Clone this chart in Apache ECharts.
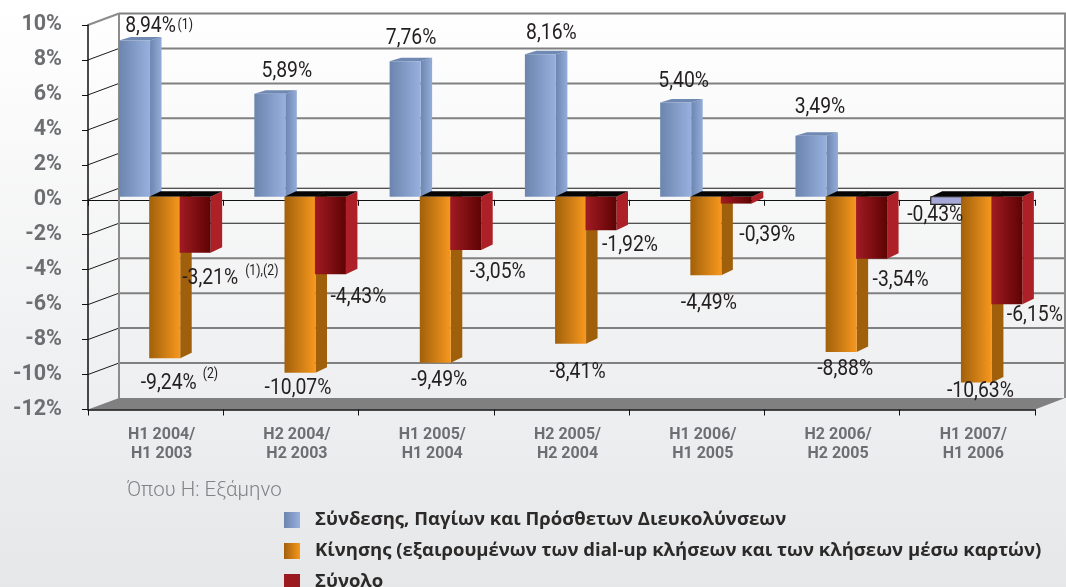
<!DOCTYPE html>
<html>
<head>
<meta charset="utf-8">
<title>chart</title>
<style>
  html, body { margin: 0; padding: 0; }
  #main { width: 1066px; height: 587px; }
</style>
<script src="https://cdn.jsdelivr.net/npm/echarts@6/dist/echarts.min.js"></script>
</head>
<body>
<div id="main"></div>
<script>
var categories = ['H1 2004/\nH1 2003', 'H2 2004/\nH2 2003', 'H1 2005/\nH1 2004', 'H2 2005/\nH2 2004', 'H1 2006/\nH1 2005', 'H2 2006/\nH2 2005', 'H1 2007/\nH1 2006']
var accessValues = [8.94, 5.89, 7.76, 8.16, 5.40, 3.49, -0.43]
var trafficValues = [-9.24, -10.07, -9.49, -8.41, -4.49, -8.88, -10.63]
var totalValues = [-3.21, -4.43, -3.05, -1.92, -0.39, -3.54, -6.15]
var accessNotes = ['(1)', '', '', '', '', '', '']
var trafficNotes = ['(2)', '', '', '', '', '', '']
var totalNotes = ['(1),(2)', '', '', '', '', '', '']
var yTicks = [10, 8, 6, 4, 2, 0, -2, -4, -6, -8, -10, -12]
var accessName = 'Σύνδεσης, Παγίων και Πρόσθετων Διευκολύνσεων'
var trafficName = 'Κίνησης (εξαιρουμένων των dial-up κλήσεων και των κλήσεων μέσω καρτών)'
var totalName = 'Σύνολο'
var noteText = 'Όπου Η: Εξάμηνο'

// label shift from the end of each bar, in px
var accessShift = [[16, -15], [17, -23], [6, -24], [11, -22], [8, -22], [9, -29], [-11, 10]]
var trafficShift = [[4, 24], [-2, 15], [4, 17], [7, 28], [3, 27], [4, 17], [4, 8]]
var totalShift = [[15, 25], [28, 22], [32, 21], [29, 14], [31, 31], [29, 21], [28, 10]]

var WALL_DX = 31
var WALL_DY = -11.5
var BAR_W = 31
var BAR_DX = 11.5
var BAR_BASE_DY = -3
var GRAY = '#6d6e71'
var LABEL_FONT = 'Roboto'
var LABEL_SCALE = 0.88

function hGrad(a, b) {
  return {
    type: 'linear', x: 0, y: 0, x2: 1, y2: 0,
    colorStops: [{ offset: 0, color: a }, { offset: 1, color: b }],
  }
}

function poly(points, fill, z2) {
  return { type: 'polygon', shape: { points: points }, style: { fill: fill }, z2: z2 }
}

function pct(v) {
  return v.toFixed(2).replace('.', ',') + '%'
}

// back wall, floor and the slanted ticks on the left
function renderWall(params, api) {
  var v = api.value(0)
  var rect = params.coordSys
  var y = api.coord([0, v])[1]
  var x0 = rect.x
  var x1 = rect.x + rect.width
  var children = []
  if (v === -12) {
    children.push(poly([[x0, y], [x0 + WALL_DX, y + WALL_DY], [x1 + WALL_DX - 1, y + WALL_DY], [x1, y]], '#808080', 1))
    children.push({
      type: 'line',
      shape: { x1: x0 + WALL_DX, y1: rect.y + WALL_DY, x2: x0 + WALL_DX, y2: y + WALL_DY },
      style: { stroke: '#8c8c8c', lineWidth: 2 },
      z2: 1,
    })
    children.push({
      type: 'line',
      shape: { x1: x1 + WALL_DX - 1, y1: rect.y + WALL_DY, x2: x1 + WALL_DX - 1, y2: y + WALL_DY },
      style: { stroke: '#8c8c8c', lineWidth: 2 },
      z2: 1,
    })
    return { type: 'group', children: children }
  }
  var dark = v === 0 || v === -2
  children.push({
    type: 'line',
    shape: { x1: x0 + WALL_DX, y1: y + WALL_DY, x2: 1066, y2: y + WALL_DY },
    style: { stroke: dark ? '#1a1a1a' : '#808080', lineWidth: dark ? 1.2 : 2 },
    z2: 1,
  })
  children.push({
    type: 'line',
    shape: { x1: x0, y1: y, x2: x0 + WALL_DX, y2: y + WALL_DY },
    style: { stroke: v === 10 ? '#8c8c8c' : '#1a1a1a', lineWidth: v === 10 ? 2 : 1 },
    z2: 1,
  })
  return { type: 'group', children: children }
}

function labelText(text, x, y, align, size) {
  return {
    type: 'text',
    x: x,
    y: y,
    scaleX: LABEL_SCALE,
    style: {
      text: text,
      align: align,
      verticalAlign: 'middle',
      fill: '#231f20',
      font: size + 'px ' + LABEL_FONT,
    },
    z2: 100,
  }
}

function makeBarRender(opts) {
  return function (params, api) {
    var i = api.value(0)
    var v = api.value(1)
    var base = api.coord([i, 0])
    var end = api.coord([i, v])
    var band = api.size([1, 0])[0]
    var xl = base[0] + opts.offset * band - BAR_W / 2
    var xr = xl + BAR_W
    var y0 = base[1] + BAR_BASE_DY
    var y1 = end[1] + BAR_BASE_DY
    var dy = v < 0 ? -5.5 : -3.5
    var z = opts.z
    var children = []
    var top = Math.min(y0, y1)
    var bottom = Math.max(y0, y1)
    var negBlue = v < 0 && opts.blue

    children.push(poly([[xr, top], [xr + BAR_DX, top + dy], [xr + BAR_DX, bottom + dy], [xr, bottom]], opts.side, z))
    children.push(poly([[xl, top], [xl + BAR_DX, top + dy], [xr + BAR_DX, top + dy], [xr, top]], v < 0 ? '#050505' : opts.top, z))
    children.push({
      type: 'rect',
      shape: { x: xl, y: top, width: BAR_W, height: bottom - top },
      style: negBlue ? { fill: '#a6a8d8', stroke: '#222', lineWidth: 1.2 } : { fill: opts.front },
      z2: z + 1,
    })

    var shift = opts.shift[i]
    var cx = xl + BAR_W / 2 + shift[0]
    var cy = y1 + shift[1] + 1
    children.push(labelText(pct(v), cx, cy, 'center', 22))
    var note = opts.notes[i]
    if (note) {
      children.push(labelText(note, cx + opts.noteShift[0], cy + opts.noteShift[1], 'left', 14))
    }
    return { type: 'group', children: children }
  }
}

function barData(values) {
  return values.map(function (v, i) {
    return [i, v]
  })
}

var accessFront = hGrad('#6c85ae', '#97b0de')
var trafficFront = hGrad('#a1600a', '#f7981f')
var totalFront = hGrad('#a11b23', '#5e0303')

var myChart = echarts.init(document.getElementById('main'))
var options = {
  animation: false,
  backgroundColor: {
    type: 'linear', x: 0, y: 0, x2: 0, y2: 1,
    colorStops: [{ offset: 0, color: '#ffffff' }, { offset: 1, color: '#e6e7e9' }],
  },
  textStyle: { fontFamily: 'Roboto' },
  title: {
    text: noteText,
    left: 122,
    top: 475,
    textStyle: { color: '#808285', fontSize: 20.5, fontWeight: 300, fontFamily: 'Roboto' },
  },
  legend: {
    data: [accessName, trafficName, totalName],
    orient: 'vertical',
    left: 284,
    top: 509,
    height: 110,
    padding: 0,
    itemWidth: 16,
    itemHeight: 16,
    itemGap: 9,
    icon: 'rect',
    textStyle: { color: '#2b2a29', fontSize: 18.5, lineHeight: 22, fontWeight: 'bold', fontFamily: '"Open Sans"', padding: [0, 0, 0, 10] },
  },
  grid: { left: 88, right: 31, top: 25, bottom: 177.5, containLabel: false },
  xAxis: [
    {
      type: 'category',
      data: categories,
      position: 'bottom',
      z: 3,
      axisLine: { onZero: false, lineStyle: { color: '#111', width: 1.5 } },
      axisTick: { show: true, length: 6, lineStyle: { color: '#111' } },
      axisLabel: {
        interval: 0,
        margin: 16,
        color: GRAY,
        fontFamily: 'Roboto',
        fontWeight: 'bold',
        fontSize: 16,
        lineHeight: 19,
        padding: [0, 0, 0, 12],
      },
    },
    {
      type: 'category',
      data: categories,
      position: 'bottom',
      z: 0,
      axisLine: { onZero: true, lineStyle: { color: '#111', width: 1.2 } },
      axisTick: { show: true, length: 6, lineStyle: { color: '#111' } },
      axisLabel: { show: false },
    },
  ],
  yAxis: {
    type: 'value',
    min: -12,
    max: 10,
    interval: 2,
    z: 3,
    axisLine: { show: true, lineStyle: { color: '#111', width: 1.5 } },
    axisTick: { show: true, length: 6, lineStyle: { color: '#111' } },
    axisLabel: {
      margin: 26,
      color: GRAY,
      fontFamily: 'Roboto',
      fontWeight: 'bold',
      fontSize: 21.5,
      padding: [6, 0, 0, 0],
      formatter: '{value}%',
    },
    splitLine: { show: false },
  },
  series: [
    {
      name: 'wall',
      type: 'custom',
      silent: true,
      z: 1,
      renderItem: renderWall,
      data: yTicks.map(function (v) {
        return [v]
      }),
      encode: { y: 0 },
    },
    {
      name: accessName,
      type: 'custom',
      z: 2,
      itemStyle: { color: accessFront },
      renderItem: makeBarRender({
        offset: -0.156, z: 10, blue: true, front: accessFront, side: hGrad('#6d86b0', '#93acd9'), top: '#7089b2',
        shift: accessShift, notes: accessNotes, noteShift: [27, -1],
      }),
      data: barData(accessValues),
      encode: { x: 0, y: 1 },
    },
    {
      name: trafficName,
      type: 'custom',
      z: 2,
      itemStyle: { color: trafficFront },
      renderItem: makeBarRender({
        offset: 0.067, z: 20, front: trafficFront, side: '#a05f0a', top: '#050505',
        shift: trafficShift, notes: trafficNotes, noteShift: [34, -9],
      }),
      data: barData(trafficValues),
      encode: { x: 0, y: 1 },
    },
    {
      name: totalName,
      type: 'custom',
      z: 2,
      itemStyle: { color: '#9b1a20' },
      renderItem: makeBarRender({
        offset: 0.292, z: 30, front: totalFront, side: '#ad2027', top: '#050505',
        shift: totalShift, notes: totalNotes, noteShift: [35, -7],
      }),
      data: barData(totalValues),
      encode: { x: 0, y: 1 },
    },
  ],
}
myChart.setOption(options)
</script>
</body>
</html>
